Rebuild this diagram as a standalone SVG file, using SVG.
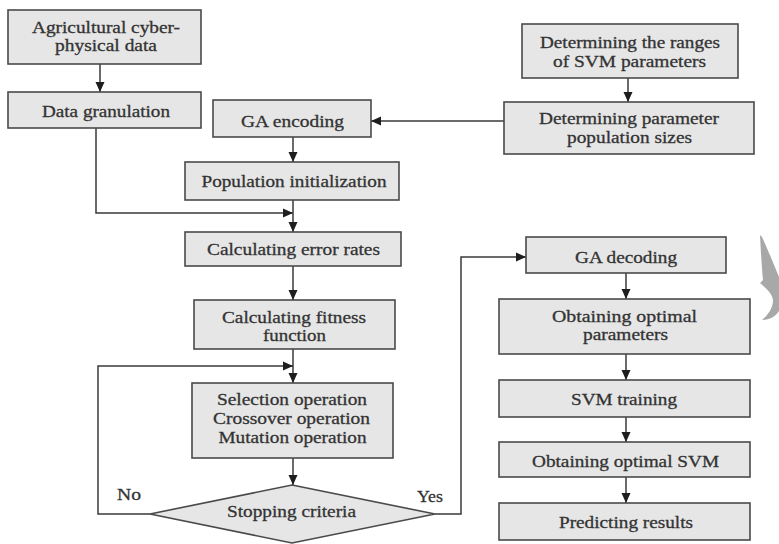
<svg xmlns="http://www.w3.org/2000/svg" width="779" height="544" viewBox="0 0 779 544">
  <style>
    .box { fill: #e6e6e6; stroke: #4a4a4a; stroke-width: 1.6; }
    .lbl { font-family: "Liberation Serif", "Times New Roman", serif; font-size: 17px; fill: #333; stroke: #333; stroke-width: 0.3; text-anchor: middle; }
    .wire { fill: none; stroke: #3a3a3a; stroke-width: 1.5; }
  </style>
  <defs>
    <marker id="arrow" markerUnits="userSpaceOnUse" markerWidth="10" markerHeight="10" viewBox="0 0 10 10" refX="10" refY="5" orient="auto">
      <path d="M0,0.5 L10,5 L0,9.5 Z" fill="#1e1e1e"/>
    </marker>
  </defs>

  <rect width="779" height="544" fill="#ffffff"/>

  <!-- connectors -->
  <g id="connectors" class="wire" marker-end="url(#arrow)">
    <path d="M100,64 V92"/>
    <path d="M96,128 V213 H293"/>
    <path d="M293,137 V162"/>
    <path d="M293,200 V232"/>
    <path d="M293,266 V300"/>
    <path d="M293,349 V383"/>
    <path d="M150,514 H98 V366 H293"/>
    <path d="M293,458 V485"/>
    <path d="M435,514 H461 V257 H526"/>
    <path d="M628,78 V102"/>
    <path d="M504,121 H371"/>
    <path d="M626,273 V299"/>
    <path d="M626,354 V380"/>
    <path d="M626,417 V442"/>
    <path d="M626,477 V503"/>
  </g>

  <g id="cps-data">
    <rect class="box" x="8" y="10" width="193" height="54"/>
    <text class="lbl" x="106" y="33" textLength="148" lengthAdjust="spacingAndGlyphs">Agricultural cyber-</text>
    <text class="lbl" x="106" y="51" textLength="102" lengthAdjust="spacingAndGlyphs">physical data</text>
  </g>

  <g id="granulation">
    <rect class="box" x="8" y="92" width="193" height="36"/>
    <text class="lbl" x="106" y="117" textLength="128" lengthAdjust="spacingAndGlyphs">Data granulation</text>
  </g>

  <g id="ga-encoding">
    <rect class="box" x="213" y="100" width="158" height="37"/>
    <text class="lbl" x="292.5" y="127" textLength="103" lengthAdjust="spacingAndGlyphs">GA encoding</text>
  </g>

  <g id="pop-init">
    <rect class="box" x="185" y="162" width="214" height="38"/>
    <text class="lbl" x="294" y="187" textLength="185" lengthAdjust="spacingAndGlyphs">Population initialization</text>
  </g>

  <g id="svm-ranges">
    <rect class="box" x="522" y="24" width="216" height="54"/>
    <text class="lbl" x="630" y="48" textLength="180" lengthAdjust="spacingAndGlyphs">Determining the ranges</text>
    <text class="lbl" x="629.5" y="67" textLength="153" lengthAdjust="spacingAndGlyphs">of SVM parameters</text>
  </g>

  <g id="pop-sizes">
    <rect class="box" x="504" y="102" width="250" height="52"/>
    <text class="lbl" x="629" y="124" textLength="180" lengthAdjust="spacingAndGlyphs">Determining parameter</text>
    <text class="lbl" x="629.5" y="143" textLength="125" lengthAdjust="spacingAndGlyphs">population sizes</text>
  </g>

  <g id="error-rates">
    <rect class="box" x="185" y="232" width="216" height="34"/>
    <text class="lbl" x="293.5" y="255" textLength="173" lengthAdjust="spacingAndGlyphs">Calculating error rates</text>
  </g>

  <g id="fitness">
    <rect class="box" x="194" y="300" width="201" height="49"/>
    <text class="lbl" x="294" y="323" textLength="144" lengthAdjust="spacingAndGlyphs">Calculating fitness</text>
    <text class="lbl" x="294.5" y="341" textLength="63" lengthAdjust="spacingAndGlyphs">function</text>
  </g>

  <g id="operators">
    <rect class="box" x="192" y="383" width="201" height="75"/>
    <text class="lbl" x="292" y="405" textLength="150" lengthAdjust="spacingAndGlyphs">Selection operation</text>
    <text class="lbl" x="291.5" y="424" textLength="157" lengthAdjust="spacingAndGlyphs">Crossover operation</text>
    <text class="lbl" x="292.5" y="443" textLength="148" lengthAdjust="spacingAndGlyphs">Mutation operation</text>
  </g>

  <g id="stopping">
    <polygon class="box" points="292,485 435,514 292,543 150,514"/>
    <text class="lbl" x="291.5" y="517" textLength="129" lengthAdjust="spacingAndGlyphs">Stopping criteria</text>
  </g>

  <g id="branch-labels">
    <text class="lbl" x="129" y="500" textLength="24" lengthAdjust="spacingAndGlyphs">No</text>
    <text class="lbl" x="430" y="502" textLength="26" lengthAdjust="spacingAndGlyphs">Yes</text>
  </g>

  <g id="ga-decoding">
    <rect class="box" x="526" y="237" width="200" height="36"/>
    <text class="lbl" x="626" y="263" textLength="102" lengthAdjust="spacingAndGlyphs">GA decoding</text>
  </g>

  <g id="optimal-params">
    <rect class="box" x="499" y="299" width="251" height="55"/>
    <text class="lbl" x="624.5" y="322" textLength="145" lengthAdjust="spacingAndGlyphs">Obtaining optimal</text>
    <text class="lbl" x="625.5" y="340" textLength="85" lengthAdjust="spacingAndGlyphs">parameters</text>
  </g>

  <g id="svm-training">
    <rect class="box" x="499" y="380" width="251" height="37"/>
    <text class="lbl" x="624" y="405" textLength="106" lengthAdjust="spacingAndGlyphs">SVM training</text>
  </g>

  <g id="optimal-svm">
    <rect class="box" x="499" y="442" width="251" height="35"/>
    <text class="lbl" x="625.5" y="467" textLength="187" lengthAdjust="spacingAndGlyphs">Obtaining optimal SVM</text>
  </g>

  <g id="predicting">
    <rect class="box" x="499" y="503" width="251" height="37"/>
    <text class="lbl" x="626" y="528" textLength="134" lengthAdjust="spacingAndGlyphs">Predicting results</text>
  </g>

  <!-- grey brush stroke at the right margin -->
  <path d="M760,235 C761,255 762,270 763,280 L760,283 C766,288 772,293 773,300 C773,308 768,315 762,320 C770,320 776,316 779,311 L779,277 C773,262 767,248 762,237 Z" fill="#a8a8a8"/>
</svg>
